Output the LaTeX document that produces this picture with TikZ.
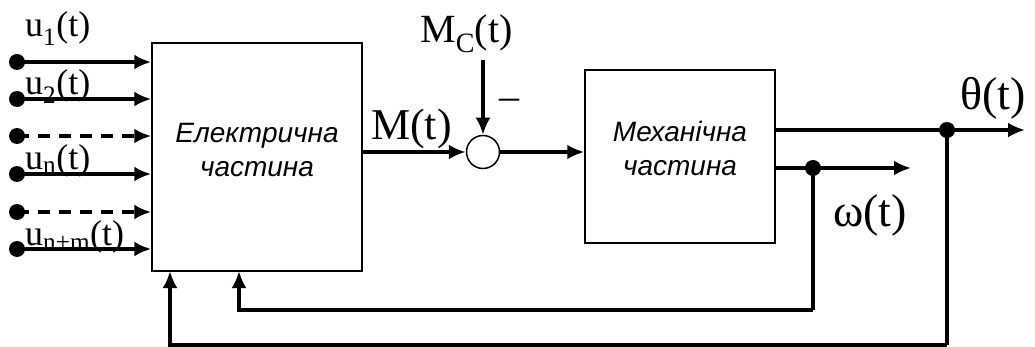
\documentclass[tikz,border=0pt]{standalone}
\usepackage{fontspec}
\setmainfont{Liberation Serif}
\newfontfamily\boxfont{Liberation Sans}
\usepackage{tikz}
\usetikzlibrary{arrows.meta,positioning}

\begin{document}
\begin{tikzpicture}[x=1pt,y=-1pt,
  block/.style={draw,line width=1.5pt,align=center,inner sep=0pt,
                font=\boxfont\itshape\fontsize{28}{34}\selectfont},
  sumnode/.style={draw,circle,line width=1.5pt,minimum size=33pt,inner sep=0pt},
  dot/.style={circle,fill,minimum size=16pt,inner sep=0pt},
  sig/.style={-{Latex[length=17pt,width=15pt]},line width=3.5pt},
  brk/.style={dash pattern=on 12pt off 9pt},
  wire/.style={line width=3.5pt},
  lbl/.style={inner sep=0pt,anchor=base west,font=\fontsize{36}{36}\selectfont},
  biglbl/.style={inner sep=0pt,anchor=base west,font=\fontsize{46}{46}\selectfont}
]
\useasboundingbox (0,0) rectangle (1035,347);

% blocks
\node[block,minimum width=210pt,minimum height=228pt] (elec) at (257,157) {};
\node[block,draw=none] (electxt) at (257,150) {Електрична\\частина};
\node[block,minimum width=190pt,minimum height=173pt] (mech) at (680,156.5) {};
\node[block,draw=none] (mechtxt) at (680,148) {Механічна\\частина};
\node[sumnode] (sum) at (483,152) {};

% inputs
\foreach \i/\yy/\ls in {1/62/solid,2/99/solid,3/136/brk,4/174/solid,5/212/brk,6/249/solid}{
  \node[dot] (in\i) at (17,\yy) {};
  \draw[sig,\ls] (in\i.center) -- (in\i -| elec.west);
}
\node[lbl] (u1) at (25,37) {u\textsubscript{1}(t)};
\node[lbl] (u2) at (25,95) {u\textsubscript{2}(t)};
\node[lbl] (un) at (25,170) {u\textsubscript{n}(t)};
\node[lbl] (unm) at (25,245) {u\textsubscript{n+m}(t)};

% torque and summing point
\coordinate (mc) at (483,60);
\draw[sig] (elec.east |- sum) -- (sum.west);
\draw[sig] (mc) -- (sum.north);
\draw[sig] (sum.east) -- (mech.west |- sum);
\node[inner sep=0pt,anchor=base west,font=\fontsize{44}{44}\selectfont] (mt) at (371,140) {M(t)};
\node[lbl,font=\fontsize{40}{40}\selectfont] (mct) at (420,43) {M\textsubscript{C}(t)};
\node[inner sep=0pt,font=\fontsize{40}{40}\selectfont] (minus) at (509,104) {–};

% outputs
\node[dot] (thtap) at (947,130) {};
\node[dot] (wtap) at (813,168) {};
\coordinate (thout) at (1025,130);
\coordinate (wout) at (911,168);
\draw[sig] (mech.east |- thtap) -- (thout);
\draw[sig] (mech.east |- wtap) -- (wout);
\node[biglbl] (tht) at (960,110) {θ(t)};
\node[biglbl] (wt) at (833,227) {ω(t)};

% feedback
\coordinate (wb) at (813,310);
\coordinate (thb) at (947,345);
\draw[wire] (wtap.center) -- (wb);
\draw[sig] (wb) -- (239,310) -- (239,271);
\draw[wire] (thtap.center) -- (thb);
\draw[sig] (thb) -- (170,345) -- (170,271);
\end{tikzpicture}
\end{document}
